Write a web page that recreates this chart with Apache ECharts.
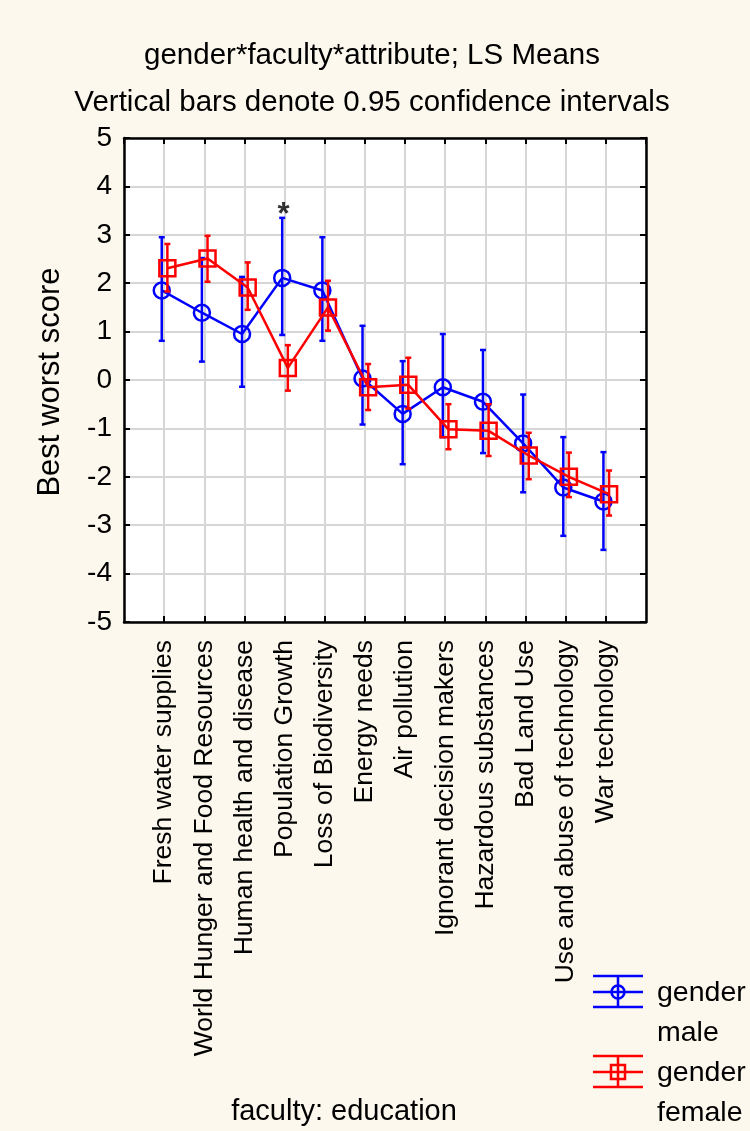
<!DOCTYPE html>
<html>
<head>
<meta charset="utf-8">
<script src="https://cdn.jsdelivr.net/npm/echarts@6/dist/echarts.min.js"></script>
<style>
html,body{margin:0;padding:0;background:#fdf8ed;}
#chart{width:750px;height:1131px;}
</style>
</head>
<body>
<div id="chart"></div>
<script>
const categories = ['Fresh water supplies','World Hunger and Food Resources','Human health and disease','Population Growth','Loss of Biodiversity','Energy needs','Air pollution','Ignorant decision makers','Hazardous substances','Bad Land Use','Use and abuse of technology','War technology'];
const maleMean   = [1.85, 1.39, 0.95, 2.11, 1.85, 0.03, -0.70, -0.15, -0.45, -1.31, -2.22, -2.51];
const maleLow    = [0.81, 0.38, -0.14, 0.93, 0.81, -0.92, -1.74, -1.18, -1.51, -2.32, -3.22, -3.51];
const maleHigh   = [2.95, 2.52, 2.13, 3.35, 2.95, 1.12, 0.39, 0.95, 0.62, -0.30, -1.18, -1.49];
const femaleMean = [2.31, 2.51, 1.91, 0.25, 1.50, -0.15, -0.10, -1.02, -1.05, -1.56, -2.00, -2.36];
const femaleLow  = [1.83, 2.03, 1.45, -0.22, 1.02, -0.62, -0.59, -1.43, -1.57, -2.05, -2.42, -2.80];
const femaleHigh = [2.81, 2.98, 2.43, 0.72, 2.05, 0.33, 0.46, -0.50, -0.50, -1.09, -1.50, -1.87];
const yTicks = [-5, -4, -3, -2, -1, 0, 1, 2, 3, 4, 5];
const significantCategory = 'Population Growth';
const significantValue = 3.55;

const FONT = "'Liberation Sans', Arial, sans-serif";
const BLUE = '#0000ff', RED = '#ff0000';
const LW = 2.5;
const maleOff = -0.06, femaleOff = 0.08;

const pos = (i, off) => i + 1 + off;
const maleLine = maleMean.map((v, i) => [pos(i, maleOff), v]);
const femaleLine = femaleMean.map((v, i) => [pos(i, femaleOff), v]);
const maleErr = maleMean.map((v, i) => [pos(i, maleOff), maleLow[i], maleHigh[i]]);
const femaleErr = femaleMean.map((v, i) => [pos(i, femaleOff), femaleLow[i], femaleHigh[i]]);

function errRender(color) {
  return function (params, api) {
    const x = api.value(0), lo = api.value(1), hi = api.value(2);
    const a = api.coord([x, lo]), b = api.coord([x, hi]);
    const hw = 3;
    const st = { stroke: color, lineWidth: LW };
    return { type: 'group', children: [
      { type: 'line', shape: { x1: a[0], y1: a[1], x2: b[0], y2: b[1] }, style: st },
      { type: 'line', shape: { x1: a[0]-hw, y1: a[1], x2: a[0]+hw, y2: a[1] }, style: st },
      { type: 'line', shape: { x1: b[0]-hw, y1: b[1], x2: b[0]+hw, y2: b[1] }, style: st }
    ]};
  };
}

const chart = echarts.init(document.getElementById('chart'), null, { renderer: 'canvas' });
const tickStyle = { show: true, inside: true, length: 6, lineStyle: { color: '#000', width: 2 } };
const axisLine = { show: true, onZero: false, lineStyle: { color: '#000', width: 2.5 } };
const gridLine = { show: true, lineStyle: { color: '#d6d6d6', width: 2 } };

chart.setOption({
  animation: false,
  backgroundColor: '#fdf8ed',
  title: {
    text: 'gender*faculty*attribute; LS Means\nVertical bars denote 0.95 confidence intervals',
    left: 367, top: 27, textAlign: 'center',
    textStyle: { fontFamily: FONT, fontSize: 29.5, fontWeight: 'normal', color: '#000', lineHeight: 47 }
  },
  grid: { left: 124, top: 138, width: 522, height: 484, show: true, backgroundColor: '#fff', borderWidth: 0 },
  xAxis: [{
    type: 'value', min: 0, max: 13, interval: 1, position: 'bottom',
    axisLine: axisLine, axisTick: tickStyle, splitLine: gridLine,
    axisLabel: {
      rotate: 90, margin: 18, fontFamily: FONT, fontSize: 26.5, color: '#000',
      showMinLabel: false, showMaxLabel: false,
      formatter: v => categories[Math.round(v) - 1] || ''
    }
  }, {
    type: 'value', min: 0, max: 13, interval: 1, position: 'top',
    axisLine: axisLine, axisTick: tickStyle, splitLine: { show: false }, axisLabel: { show: false }
  }],
  yAxis: [{
    type: 'value', min: yTicks[0], max: yTicks[yTicks.length-1], interval: 1, position: 'left',
    axisLine: axisLine, axisTick: tickStyle, splitLine: gridLine,
    axisLabel: { margin: 12, fontFamily: FONT, fontSize: 28, color: '#000' }
  }, {
    type: 'value', min: yTicks[0], max: yTicks[yTicks.length-1], interval: 1, position: 'right',
    axisLine: axisLine, axisTick: tickStyle, splitLine: { show: false }, axisLabel: { show: false }
  }],
  series: [
    { type: 'custom', name: 'male CI', renderItem: errRender(BLUE), data: maleErr, encode: { x: 0, y: [1, 2] }, z: 3 },
    { type: 'line', name: 'male', data: maleLine, symbol: 'circle', symbolSize: 16,
      itemStyle: { color: 'rgba(0,0,0,0)', borderColor: BLUE, borderWidth: LW },
      lineStyle: { color: BLUE, width: LW }, emphasis: { disabled: true }, z: 4 },
    { type: 'custom', name: 'female CI', renderItem: errRender(RED), data: femaleErr, encode: { x: 0, y: [1, 2] }, z: 5 },
    { type: 'line', name: 'female', data: femaleLine, symbol: 'rect', symbolSize: 16,
      itemStyle: { color: 'rgba(0,0,0,0)', borderColor: RED, borderWidth: LW },
      lineStyle: { color: RED, width: LW }, emphasis: { disabled: true }, z: 6 },
    { type: 'scatter', name: 'sig', data: [[categories.indexOf(significantCategory) + 1, significantValue]],
      symbolSize: 1, itemStyle: { color: 'rgba(0,0,0,0)' }, z: 7,
      label: { show: true, position: 'inside', offset: [-1, 7], formatter: '*', fontFamily: FONT, fontSize: 31, fontWeight: 'bold', color: '#000' } }
  ],
  graphic: [
    { type: 'text', x: 50, y: 382, rotation: Math.PI / 2,
      style: { text: 'Best worst score', fontFamily: FONT, fontSize: 31, fill: '#000', align: 'center', verticalAlign: 'middle' } },
    { type: 'text', x: 344, y: 1112,
      style: { text: 'faculty: education', fontFamily: FONT, fontSize: 29, fill: '#000', align: 'center', verticalAlign: 'middle' } },
    { type: 'group', children: [
      { type: 'line', shape: { x1: 593, y1: 976, x2: 643, y2: 976 }, style: { stroke: BLUE, lineWidth: LW } },
      { type: 'line', shape: { x1: 593, y1: 992, x2: 643, y2: 992 }, style: { stroke: BLUE, lineWidth: LW } },
      { type: 'line', shape: { x1: 593, y1: 1007, x2: 643, y2: 1007 }, style: { stroke: BLUE, lineWidth: LW } },
      { type: 'line', shape: { x1: 618, y1: 976, x2: 618, y2: 1007 }, style: { stroke: BLUE, lineWidth: LW } },
      { type: 'circle', shape: { cx: 618, cy: 992, r: 6.5 }, style: { fill: 'none', stroke: BLUE, lineWidth: LW } },
      { type: 'text', x: 657, y: 993, style: { text: 'gender', fontFamily: FONT, fontSize: 28.5, fill: '#000', verticalAlign: 'middle' } },
      { type: 'text', x: 657, y: 1033, style: { text: 'male', fontFamily: FONT, fontSize: 28.5, fill: '#000', verticalAlign: 'middle' } }
    ]},
    { type: 'group', children: [
      { type: 'line', shape: { x1: 593, y1: 1056, x2: 643, y2: 1056 }, style: { stroke: RED, lineWidth: LW } },
      { type: 'line', shape: { x1: 593, y1: 1072, x2: 643, y2: 1072 }, style: { stroke: RED, lineWidth: LW } },
      { type: 'line', shape: { x1: 593, y1: 1087, x2: 643, y2: 1087 }, style: { stroke: RED, lineWidth: LW } },
      { type: 'line', shape: { x1: 618, y1: 1056, x2: 618, y2: 1087 }, style: { stroke: RED, lineWidth: LW } },
      { type: 'rect', shape: { x: 611, y: 1065, width: 14, height: 14 }, style: { fill: 'none', stroke: RED, lineWidth: LW } },
      { type: 'text', x: 657, y: 1073, style: { text: 'gender', fontFamily: FONT, fontSize: 28.5, fill: '#000', verticalAlign: 'middle' } },
      { type: 'text', x: 657, y: 1113, style: { text: 'female', fontFamily: FONT, fontSize: 28.5, fill: '#000', verticalAlign: 'middle' } }
    ]}
  ]
});
</script>
</body>
</html>
